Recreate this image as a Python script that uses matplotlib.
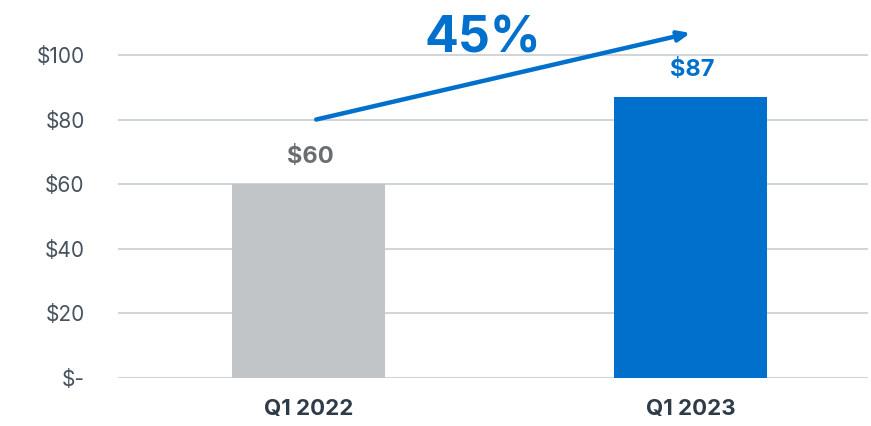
import matplotlib
matplotlib.use("Agg")
import matplotlib.pyplot as plt

categories = ["Q1 2022", "Q1 2023"]
values = [60, 87]
value_labels = ["$60", "$87"]
bar_colors = ["#c1c5c8", "#0070cd"]
label_colors = ["#6b6e70", "#0070cd"]
y_ticks = [0, 20, 40, 60, 80, 100]
y_tick_labels = ["$-", "$20", "$40", "$60", "$80", "$100"]
growth_text = "45%"
arrow_start = (0.02, 80)
arrow_end = (1.0, 106.8)

blue = "#0070cd"
font = "Inter"

fig = plt.figure(figsize=(8.71, 4.26), dpi=100)
ax = fig.add_axes([118 / 871, 1 - 378 / 426, 750 / 871, 378 / 426])

x = list(range(len(categories)))
ax.bar(x, values, width=0.4, color=bar_colors, zorder=2)

ax.set_xlim(-0.499, 1.465)
ax.set_ylim(0, 117)
ax.set_yticks(y_ticks)
ax.set_yticklabels(y_tick_labels, fontsize=15, color="#46525d", family=font, fontweight="normal")
ax.set_xticks(x)
ax.set_xticklabels(categories, fontsize=16, color="#2e3b48", family=font, fontweight="bold")
ax.tick_params(axis="y", length=0, pad=24)
ax.tick_params(axis="x", length=0, pad=15)
ax.grid(axis="y", color="#d3d6d9", linewidth=1.5, zorder=0)
for s in ax.spines.values():
    s.set_visible(False)

for xi, v, lab, c in zip(x, values, value_labels, label_colors):
    ax.text(xi + 0.005, v + 5.0, lab, ha="center", va="bottom", fontsize=17,
            fontweight="bold", color=c, family=font)

ax.annotate("", xy=arrow_end, xytext=arrow_start,
            arrowprops=dict(arrowstyle="-|>,head_length=0.7,head_width=0.3",
                            color=blue, lw=3.2, shrinkA=0, shrinkB=0),
            annotation_clip=False)
ax.text(0.457, 105.0, growth_text, ha="center", va="center", fontsize=36,
        fontweight="bold", color=blue, family=font, clip_on=False)

fig.savefig("out.png", dpi=100)
